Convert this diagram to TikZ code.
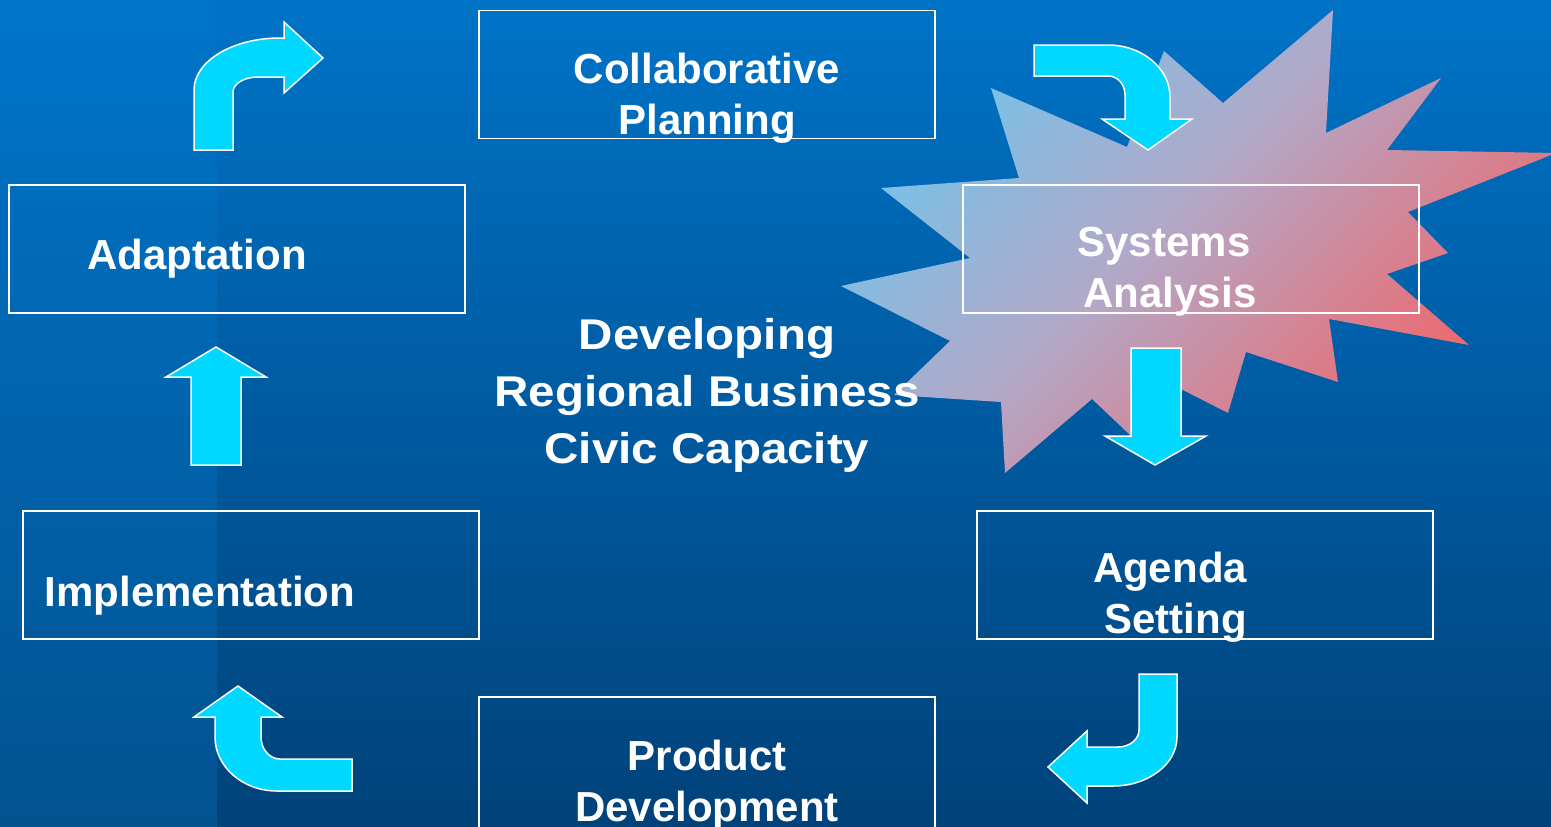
\documentclass[tikz,border=0pt]{standalone}
\usepackage{fontspec}
\setmainfont{Liberation Sans}
\newfontfamily\widefont[FakeStretch=1.105]{Liberation Sans}
\definecolor{bgtop}{RGB}{0,115,199}
\definecolor{bgbot}{RGB}{0,66,122}
\definecolor{striptop}{RGB}{0,117,203}
\definecolor{stripbot}{RGB}{2,82,143}
\definecolor{arrowcyan}{RGB}{0,216,255}
\definecolor{starblue}{RGB}{100,202,242}
\definecolor{starmid}{RGB}{178,168,200}
\definecolor{starred}{RGB}{240,102,106}
\pgfdeclareverticalshading{starshade}{100bp}{color(0bp)=(starred); color(34bp)=(starred);
  color(50bp)=(starmid); color(66bp)=(starblue); color(100bp)=(starblue)}
\begin{document}
\begin{tikzpicture}[x=1pt,y=-1pt,
  stagebox/.style={draw=white, line width=1.5pt, minimum width=456pt, minimum height=128pt, inner sep=0pt},
  boxtext/.style={text=white, font=\bfseries\fontsize{42}{50.5}\selectfont, align=center, anchor=base, inner sep=0pt},
  blockarrow/.style={fill=arrowcyan, draw=white, line width=1.5pt, line join=miter}]
\useasboundingbox (0,0) rectangle (1551,827);
\clip (0,0) rectangle (1551,827);
% background
\shade[top color=bgtop, bottom color=bgbot] (0,0) rectangle (1551,827);
\shade[top color=striptop, bottom color=stripbot] (0,0) rectangle (217,827);
% starburst
\begin{scope}
\clip (1333,10) -- (1326,133) -- (1441,78) -- (1387,150) -- (1556,153) -- (1408,212)
  -- (1448,253) -- (1387,274) -- (1469,345) -- (1329,319) -- (1338,382) -- (1246,352)
  -- (1228,413) -- (1175,386) -- (1148,452) -- (1092,399) -- (1005,473) -- (1001,402)
  -- (894,395) -- (950,341) -- (841,286) -- (970,258) -- (881,188) -- (1019,178)
  -- (991,88) -- (1127,147) -- (1164,51) -- (1223,103) -- cycle;
\shade[shading=starshade, shading angle=45] (670,-285) rectangle (1670,715);
\end{scope}
% boxes
\node[stagebox] (cp) at (707,74.5) {};
\node[stagebox] (ad) at (237,249) {};
\node[stagebox] (sa) at (1191,249) {};
\node[stagebox] (im) at (251,575) {};
\node[stagebox] (ag) at (1205,575) {};
\node[stagebox, minimum height=136pt] (pd) at (707,765) {};
% arrows
\draw[blockarrow] (194,150) -- (194,90) .. controls (194,61.3) and (232.5,38) .. (280,38)
  -- (284,38) -- (284,22) -- (323,58) -- (284,93) -- (284,77) -- (258,77)
  .. controls (244.2,77) and (233,83.7) .. (233,92) -- (233,150) -- cycle;
\draw[blockarrow] (1034,45) -- (1108,45) .. controls (1142,45) and (1170,68.3) .. (1170,97)
  -- (1170,119) -- (1192,119) -- (1148,150) -- (1102,119) -- (1125,119) -- (1125,95)
  .. controls (1125,84.5) and (1117.9,76) .. (1108,76) -- (1034,76) -- cycle;
\draw[blockarrow] (1131,348) -- (1181,348) -- (1181,436) -- (1206,436) -- (1155,465)
  -- (1105,436) -- (1131,436) -- cycle;
\draw[blockarrow] (1139,674) -- (1177,674) -- (1177,737) .. controls (1177,764) and (1148.3,786) .. (1113,786)
  -- (1087,786) -- (1087,803) -- (1048,767) -- (1087,731) -- (1087,747) -- (1118,747)
  .. controls (1129.6,747) and (1139,739.4) .. (1139,730) -- cycle;
\draw[blockarrow] (352,759) -- (280,759) .. controls (269.5,759) and (261,749.1) .. (261,737)
  -- (261,717) -- (282,717) -- (238,686) -- (194,717) -- (215,717) -- (215,737)
  .. controls (215,766.8) and (242.8,791) .. (277,791) -- (352,791) -- cycle;
\draw[blockarrow] (191,465) -- (191,377) -- (166,377) -- (216,347) -- (266,377)
  -- (241,377) -- (241,465) -- cycle;
% texts (base anchor = baseline of the last line)
\node[boxtext] (tcp) at (707,134) {Collaborative\\Planning};
\node[boxtext] (tad) at (197,269) {Adaptation};
\node[boxtext] (tsa) at (1164,307) {Systems\\\hspace*{12pt}Analysis};
\node[boxtext] (tim) at (200,606) {Implementation};
\node[boxtext] (tag) at (1170,633) {Agenda\\\hspace*{11pt}Setting};
\node[boxtext] (tpd) at (707,821) {Product\\Development};
\node[boxtext, font=\widefont\bfseries\fontsize{43}{57}\selectfont] (ctr) at (707,463)
  {Developing\\Regional Business\\Civic Capacity};
\end{tikzpicture}
\end{document}
